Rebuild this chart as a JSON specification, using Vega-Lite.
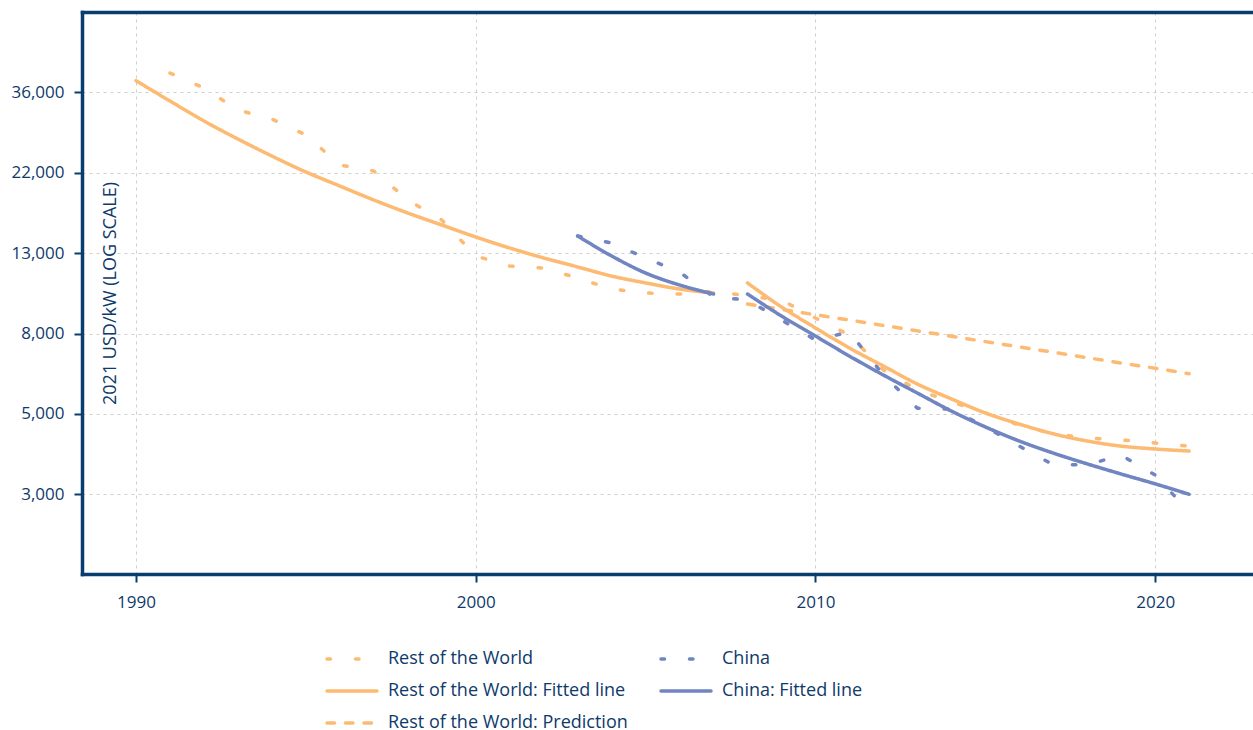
{
  "$schema": "https://vega.github.io/schema/vega-lite/v6.json",
  "width": 1171,
  "height": 562,
  "autosize": {"type": "none"},
  "padding": {"left": 82, "top": 12, "right": 0, "bottom": 156},
  "background": "white",
  "config": {
    "view": {"stroke": null},
    "font": "Open Sans"
  },
  "data": {
    "values": [
      {"year": 1991, "value": 40560, "series": "Rest of the World", "seg": "a"},
      {"year": 1992, "value": 36970, "series": "Rest of the World", "seg": "a"},
      {"year": 1993, "value": 32270, "series": "Rest of the World", "seg": "a"},
      {"year": 1994, "value": 30520, "series": "Rest of the World", "seg": "a"},
      {"year": 1995, "value": 27650, "series": "Rest of the World", "seg": "a"},
      {"year": 1996, "value": 22970, "series": "Rest of the World", "seg": "a"},
      {"year": 1997, "value": 22130, "series": "Rest of the World", "seg": "a"},
      {"year": 1998, "value": 18500, "series": "Rest of the World", "seg": "a"},
      {"year": 1999, "value": 16350, "series": "Rest of the World", "seg": "a"},
      {"year": 2000, "value": 13090, "series": "Rest of the World", "seg": "a"},
      {"year": 2001, "value": 12300, "series": "Rest of the World", "seg": "a"},
      {"year": 2002, "value": 12150, "series": "Rest of the World", "seg": "a"},
      {"year": 2003, "value": 11420, "series": "Rest of the World", "seg": "a"},
      {"year": 2004, "value": 10670, "series": "Rest of the World", "seg": "a"},
      {"year": 2005, "value": 10410, "series": "Rest of the World", "seg": "a"},
      {"year": 2006, "value": 10350, "series": "Rest of the World", "seg": "a"},
      {"year": 2007, "value": 10540, "series": "Rest of the World", "seg": "a"},
      {"year": 2008, "value": 10220, "series": "Rest of the World", "seg": "a"},
      {"year": 2009, "value": 9970, "series": "Rest of the World", "seg": "a"},
      {"year": 2010, "value": 8920, "series": "Rest of the World", "seg": "a"},
      {"year": 2011, "value": 8030, "series": "Rest of the World", "seg": "a"},
      {"year": 2012, "value": 6470, "series": "Rest of the World", "seg": "a"},
      {"year": 2013, "value": 5720, "series": "Rest of the World", "seg": "a"},
      {"year": 2014, "value": 5310, "series": "Rest of the World", "seg": "a"},
      {"year": 2015, "value": 4960, "series": "Rest of the World", "seg": "a"},
      {"year": 2016, "value": 4600, "series": "Rest of the World", "seg": "a"},
      {"year": 2017, "value": 4360, "series": "Rest of the World", "seg": "a"},
      {"year": 2018, "value": 4250, "series": "Rest of the World", "seg": "a"},
      {"year": 2019, "value": 4200, "series": "Rest of the World", "seg": "a"},
      {"year": 2020, "value": 4120, "series": "Rest of the World", "seg": "a"},
      {"year": 2021, "value": 4040, "series": "Rest of the World", "seg": "a"},

      {"year": 2003, "value": 14810, "series": "China", "seg": "a"},
      {"year": 2004, "value": 14180, "series": "China", "seg": "a"},
      {"year": 2005, "value": 12930, "series": "China", "seg": "a"},
      {"year": 2006, "value": 11850, "series": "China", "seg": "a"},
      {"year": 2007, "value": 10160, "series": "China", "seg": "a"},
      {"year": 2008, "value": 9970, "series": "China", "seg": "a"},
      {"year": 2009, "value": 8810, "series": "China", "seg": "a"},
      {"year": 2010, "value": 7790, "series": "China", "seg": "a"},
      {"year": 2011, "value": 8180, "series": "China", "seg": "a"},
      {"year": 2012, "value": 6270, "series": "China", "seg": "a"},
      {"year": 2013, "value": 5110, "series": "China", "seg": "a"},
      {"year": 2014, "value": 5080, "series": "China", "seg": "a"},
      {"year": 2015, "value": 4550, "series": "China", "seg": "a"},
      {"year": 2016, "value": 4040, "series": "China", "seg": "a"},
      {"year": 2017, "value": 3600, "series": "China", "seg": "a"},
      {"year": 2018, "value": 3600, "series": "China", "seg": "a"},
      {"year": 2019, "value": 3820, "series": "China", "seg": "a"},
      {"year": 2020, "value": 3380, "series": "China", "seg": "a"},
      {"year": 2021, "value": 2690, "series": "China", "seg": "a"},

      {"year": 1990, "value": 38680, "series": "Rest of the World: Fitted line", "seg": "a"},
      {"year": 1991, "value": 34110, "series": "Rest of the World: Fitted line", "seg": "a"},
      {"year": 1992, "value": 30150, "series": "Rest of the World: Fitted line", "seg": "a"},
      {"year": 1993, "value": 26970, "series": "Rest of the World: Fitted line", "seg": "a"},
      {"year": 1994, "value": 24280, "series": "Rest of the World: Fitted line", "seg": "a"},
      {"year": 1995, "value": 22000, "series": "Rest of the World: Fitted line", "seg": "a"},
      {"year": 1996, "value": 20170, "series": "Rest of the World: Fitted line", "seg": "a"},
      {"year": 1997, "value": 18500, "series": "Rest of the World: Fitted line", "seg": "a"},
      {"year": 1998, "value": 17070, "series": "Rest of the World: Fitted line", "seg": "a"},
      {"year": 1999, "value": 15850, "series": "Rest of the World: Fitted line", "seg": "a"},
      {"year": 2000, "value": 14720, "series": "Rest of the World: Fitted line", "seg": "a"},
      {"year": 2001, "value": 13750, "series": "Rest of the World: Fitted line", "seg": "a"},
      {"year": 2002, "value": 12930, "series": "Rest of the World: Fitted line", "seg": "a"},
      {"year": 2003, "value": 12230, "series": "Rest of the World: Fitted line", "seg": "a"},
      {"year": 2004, "value": 11560, "series": "Rest of the World: Fitted line", "seg": "a"},
      {"year": 2005, "value": 11080, "series": "Rest of the World: Fitted line", "seg": "a"},
      {"year": 2006, "value": 10670, "series": "Rest of the World: Fitted line", "seg": "a"},
      {"year": 2007, "value": 10410, "series": "Rest of the World: Fitted line", "seg": "a"},
      {"year": 2008, "value": 11080, "series": "Rest of the World: Fitted line", "seg": "b"},
      {"year": 2009, "value": 9550, "series": "Rest of the World: Fitted line", "seg": "b"},
      {"year": 2010, "value": 8390, "series": "Rest of the World: Fitted line", "seg": "b"},
      {"year": 2011, "value": 7410, "series": "Rest of the World: Fitted line", "seg": "b"},
      {"year": 2012, "value": 6630, "series": "Rest of the World: Fitted line", "seg": "b"},
      {"year": 2013, "value": 5930, "series": "Rest of the World: Fitted line", "seg": "b"},
      {"year": 2014, "value": 5410, "series": "Rest of the World: Fitted line", "seg": "b"},
      {"year": 2015, "value": 4960, "series": "Rest of the World: Fitted line", "seg": "b"},
      {"year": 2016, "value": 4630, "series": "Rest of the World: Fitted line", "seg": "b"},
      {"year": 2017, "value": 4360, "series": "Rest of the World: Fitted line", "seg": "b"},
      {"year": 2018, "value": 4170, "series": "Rest of the World: Fitted line", "seg": "b"},
      {"year": 2019, "value": 4040, "series": "Rest of the World: Fitted line", "seg": "b"},
      {"year": 2020, "value": 3970, "series": "Rest of the World: Fitted line", "seg": "b"},
      {"year": 2021, "value": 3920, "series": "Rest of the World: Fitted line", "seg": "b"},

      {"year": 2003, "value": 14810, "series": "China: Fitted line", "seg": "a"},
      {"year": 2004, "value": 13090, "series": "China: Fitted line", "seg": "a"},
      {"year": 2005, "value": 11780, "series": "China: Fitted line", "seg": "a"},
      {"year": 2006, "value": 10940, "series": "China: Fitted line", "seg": "a"},
      {"year": 2007, "value": 10350, "series": "China: Fitted line", "seg": "a"},
      {"year": 2008, "value": 10350, "series": "China: Fitted line", "seg": "b"},
      {"year": 2009, "value": 9030, "series": "China: Fitted line", "seg": "b"},
      {"year": 2010, "value": 7980, "series": "China: Fitted line", "seg": "b"},
      {"year": 2011, "value": 7050, "series": "China: Fitted line", "seg": "b"},
      {"year": 2012, "value": 6270, "series": "China: Fitted line", "seg": "b"},
      {"year": 2013, "value": 5610, "series": "China: Fitted line", "seg": "b"},
      {"year": 2014, "value": 5020, "series": "China: Fitted line", "seg": "b"},
      {"year": 2015, "value": 4550, "series": "China: Fitted line", "seg": "b"},
      {"year": 2016, "value": 4170, "series": "China: Fitted line", "seg": "b"},
      {"year": 2017, "value": 3870, "series": "China: Fitted line", "seg": "b"},
      {"year": 2018, "value": 3620, "series": "China: Fitted line", "seg": "b"},
      {"year": 2019, "value": 3400, "series": "China: Fitted line", "seg": "b"},
      {"year": 2020, "value": 3200, "series": "China: Fitted line", "seg": "b"},
      {"year": 2021, "value": 3000, "series": "China: Fitted line", "seg": "b"},

      {"year": 2008, "value": 9730, "series": "Rest of the World: Prediction", "seg": "a"},
      {"year": 2009, "value": 9410, "series": "Rest of the World: Prediction", "seg": "a"},
      {"year": 2010, "value": 9100, "series": "Rest of the World: Prediction", "seg": "a"},
      {"year": 2011, "value": 8810, "series": "Rest of the World: Prediction", "seg": "a"},
      {"year": 2012, "value": 8520, "series": "Rest of the World: Prediction", "seg": "a"},
      {"year": 2013, "value": 8240, "series": "Rest of the World: Prediction", "seg": "a"},
      {"year": 2014, "value": 7970, "series": "Rest of the World: Prediction", "seg": "a"},
      {"year": 2015, "value": 7710, "series": "Rest of the World: Prediction", "seg": "a"},
      {"year": 2016, "value": 7460, "series": "Rest of the World: Prediction", "seg": "a"},
      {"year": 2017, "value": 7220, "series": "Rest of the World: Prediction", "seg": "a"},
      {"year": 2018, "value": 6980, "series": "Rest of the World: Prediction", "seg": "a"},
      {"year": 2019, "value": 6750, "series": "Rest of the World: Prediction", "seg": "a"},
      {"year": 2020, "value": 6540, "series": "Rest of the World: Prediction", "seg": "a"},
      {"year": 2021, "value": 6320, "series": "Rest of the World: Prediction", "seg": "a"}
    ]
  },
  "layer": [
    {
      "transform": [{"filter": "indexof(datum.series, 'Fitted') < 0"}],
      "mark": {"type": "line", "strokeWidth": 3.5, "strokeCap": "round", "strokeJoin": "round"},
      "encoding": {
        "x": {
          "field": "year", "type": "quantitative",
          "scale": {"domain": [1988.41, 2022.88], "nice": false, "zero": false},
          "axis": {
            "orient": "bottom", "values": [1990, 2000, 2010, 2020], "format": "d", "title": null,
            "domain": true, "domainColor": "#0A3D6F", "domainWidth": 3.5, "domainCap": "square",
            "ticks": true, "tickColor": "#0A3D6F", "tickWidth": 2, "tickSize": 8,
            "labelFontSize": 17, "labelColor": "#0E3A6B", "labelPadding": 12, "labelFont": "Open Sans",
            "grid": true, "gridColor": "#cfcfcf", "gridDash": [3, 4], "gridWidth": 1
          }
        },
        "y": {
          "field": "value", "type": "quantitative",
          "scale": {"type": "log", "domain": [1833, 59150], "nice": false},
          "axis": {
            "values": [3000, 4931.2, 8105.7, 13323.6, 21900.9, 35999.4],
            "labelExpr": "format(round(datum.value/1000)*1000, ',')",
            "title": "2021 USD/kW (LOG SCALE)",
            "titleX": 28, "titleY": 281, "titleAngle": 270, "titleAlign": "center", "titleBaseline": "middle",
            "titleFontSize": 18, "titleFontWeight": "normal", "titleColor": "#0E3A6B", "titleFont": "Open Sans",
            "domain": true, "domainColor": "#0A3D6F", "domainWidth": 3.5, "domainCap": "square",
            "ticks": true, "tickColor": "#0A3D6F", "tickWidth": 2, "tickSize": 8,
            "labelFontSize": 17, "labelColor": "#0E3A6B", "labelPadding": 10, "labelFont": "Open Sans",
            "grid": true, "gridColor": "#cfcfcf", "gridDash": [3, 4], "gridWidth": 1
          }
        },
        "color": {
          "field": "series", "type": "nominal",
          "scale": {
            "domain": ["Rest of the World", "Rest of the World: Fitted line", "Rest of the World: Prediction", "China", "China: Fitted line"],
            "range": ["#FDBA72", "#FDBA72", "#FDBA72", "#7085C2", "#7085C2"]
          },
          "legend": {
            "title": null, "orient": "none", "legendX": 243, "legendY": 635, "columns": 2,
            "symbolType": "M-1,0H4", "symbolSize": 400, "symbolStrokeWidth": 3.5,
            "labelFontSize": 18, "labelColor": "#0E3A6B", "labelFont": "Open Sans", "labelOffset": 39, "labelLimit": 400,
            "rowPadding": 11, "columnPadding": 26, "padding": 0,
            "encode": {"symbols": {"update": {
              "strokeDash": {"signal": "(datum.value == 'Rest of the World' || datum.value == 'China') ? [2.5, 20] : (datum.value == 'Rest of the World: Prediction' ? [4, 7.5] : [1, 0])"},
              "strokeCap": {"value": "round"},
              "fill": {"value": "transparent"}
            }}}
          }
        },
        "strokeDash": {
          "field": "series", "type": "nominal",
          "scale": {
            "domain": ["Rest of the World", "Rest of the World: Fitted line", "Rest of the World: Prediction", "China", "China: Fitted line"],
            "range": [[3.5, 25], [1, 0], [7.5, 11], [3.5, 25], [1, 0]]
          },
          "legend": {
            "title": null, "orient": "none", "legendX": 243, "legendY": 635, "columns": 2,
            "symbolType": "M-1,0H4", "symbolSize": 400, "symbolStrokeWidth": 3.5,
            "labelFontSize": 18, "labelColor": "#0E3A6B", "labelFont": "Open Sans", "labelOffset": 39, "labelLimit": 400,
            "rowPadding": 11, "columnPadding": 26, "padding": 0,
            "encode": {"symbols": {"update": {
              "strokeDash": {"signal": "(datum.value == 'Rest of the World' || datum.value == 'China') ? [2.5, 20] : (datum.value == 'Rest of the World: Prediction' ? [4, 7.5] : [1, 0])"},
              "strokeCap": {"value": "round"},
              "fill": {"value": "transparent"}
            }}}
          }
        },
        "detail": {"field": "seg", "type": "nominal"}
      }
    },
    {
      "transform": [{"filter": "indexof(datum.series, 'Fitted') >= 0"}],
      "mark": {"type": "line", "strokeWidth": 3.5, "strokeCap": "round", "strokeJoin": "round", "interpolate": "monotone"},
      "encoding": {
        "x": {"field": "year", "type": "quantitative", "axis": null},
        "y": {"field": "value", "type": "quantitative"},
        "color": {"field": "series", "type": "nominal"},
        "strokeDash": {"field": "series", "type": "nominal"},
        "detail": {"field": "seg", "type": "nominal"}
      }
    },
    {
      "transform": [{"filter": "false"}],
      "mark": {"type": "line", "opacity": 0},
      "encoding": {
        "x": {
          "field": "year", "type": "quantitative",
          "axis": {
            "orient": "top", "title": null, "labels": false, "ticks": false, "grid": false,
            "domain": true, "domainColor": "#0A3D6F", "domainWidth": 3.5, "domainCap": "square"
          }
        }
      }
    }
  ],
  "resolve": {"axis": {"x": "independent"}}
}
